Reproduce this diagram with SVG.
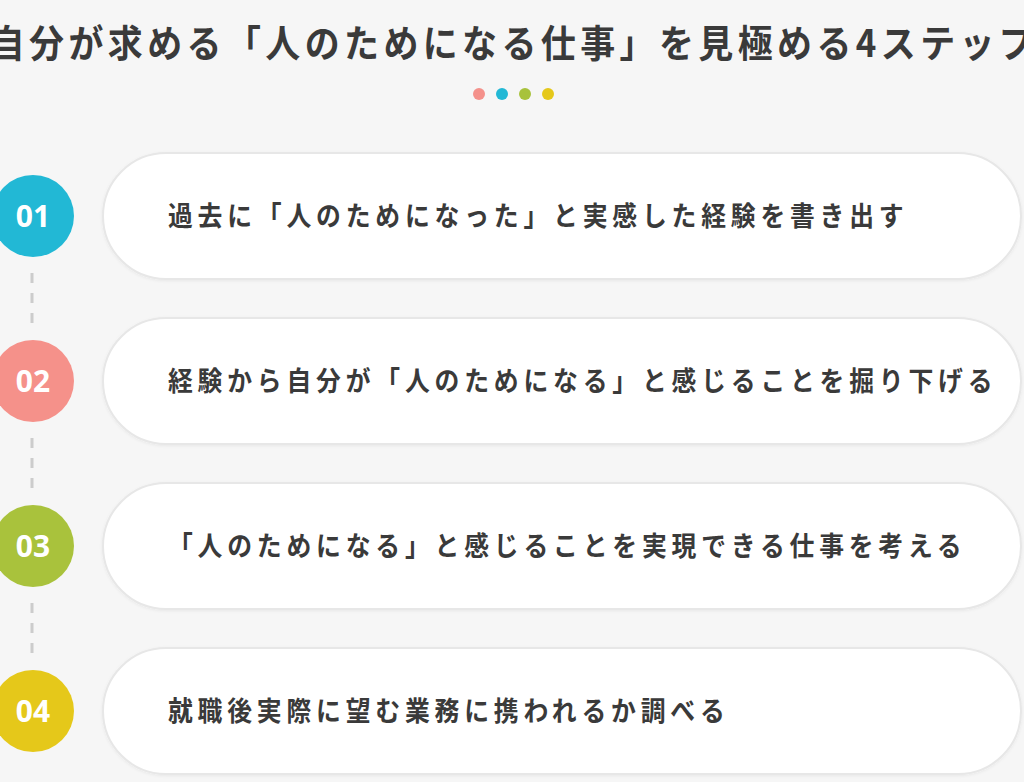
<svg xmlns="http://www.w3.org/2000/svg" width="1024" height="782" viewBox="0 0 1024 782">
<defs>
<style>
.title{font-family:"Noto Sans CJK JP","Noto Sans",sans-serif;font-weight:700;font-size:38px;fill:#3a3a3a;letter-spacing:4.8px}
.pill{fill:#ffffff;stroke:#e7e7e7;stroke-width:2}
.label{font-family:"Noto Sans CJK JP","Noto Sans",sans-serif;font-weight:700;font-size:27px;fill:#3a3a3a;letter-spacing:5.2px}
.num{font-family:"Noto Sans","Noto Sans CJK JP",sans-serif;font-weight:700;font-size:30px;fill:#ffffff;text-anchor:middle}
.dash{stroke:#cccccc;stroke-width:3;stroke-dasharray:10 10;fill:none}
</style>
<filter id="sh" x="-5%" y="-20%" width="110%" height="140%">
<feDropShadow dx="0" dy="1" stdDeviation="1.5" flood-color="#000" flood-opacity="0.06"/>
</filter>
</defs>
<rect width="1024" height="782" fill="#f6f6f6"/>
<g id="title">
<text class="title" transform="translate(514,57) scale(0.92,1)" text-anchor="middle">自分が求める「人のためになる仕事」を見極める4ステップ</text>
<circle cx="479" cy="94" r="6" fill="#f4918b"/>
<circle cx="502" cy="94" r="6" fill="#22b8d5"/>
<circle cx="525" cy="94" r="6" fill="#a8c23c"/>
<circle cx="548" cy="94" r="6" fill="#e5c81a"/>
</g>
<g id="connectors">
<line class="dash" x1="32" y1="273" x2="32" y2="323"/>
<line class="dash" x1="32" y1="438" x2="32" y2="488"/>
<line class="dash" x1="32" y1="603" x2="32" y2="653"/>
</g>
<g id="step1">
<rect class="pill" filter="url(#sh)" x="103" y="153" width="918" height="126" rx="63"/>
<circle cx="33" cy="216" r="41" fill="#22b8d5"/>
<text class="num" x="33" y="227">01</text>
<text class="label" transform="translate(168,226) scale(0.92,1)">過去に「人のためになった」と実感した経験を書き出す</text>
</g>
<g id="step2">
<rect class="pill" filter="url(#sh)" x="103" y="318" width="918" height="126" rx="63"/>
<circle cx="33" cy="381" r="41" fill="#f5918a"/>
<text class="num" x="33" y="392">02</text>
<text class="label" transform="translate(168,391) scale(0.92,1)">経験から自分が「人のためになる」と感じることを掘り下げる</text>
</g>
<g id="step3">
<rect class="pill" filter="url(#sh)" x="103" y="483" width="918" height="126" rx="63"/>
<circle cx="33" cy="546" r="41" fill="#a9c23c"/>
<text class="num" x="33" y="557">03</text>
<text class="label" transform="translate(168,556) scale(0.92,1)">「人のためになる」と感じることを実現できる仕事を考える</text>
</g>
<g id="step4">
<rect class="pill" filter="url(#sh)" x="103" y="648" width="918" height="126" rx="63"/>
<circle cx="33" cy="711" r="41" fill="#e5c81a"/>
<text class="num" x="33" y="722">04</text>
<text class="label" transform="translate(168,721) scale(0.92,1)">就職後実際に望む業務に携われるか調べる</text>
</g>
</svg>
